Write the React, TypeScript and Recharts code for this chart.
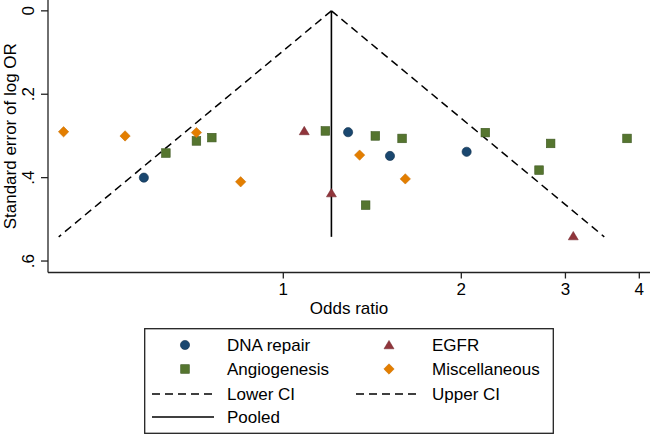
import React from 'react';
import { ScatterChart, Scatter, XAxis, YAxis, Legend } from 'recharts';

// funnel plot: odds ratio (log x) vs standard error of log OR (reversed y)
const dnaOR = [0.581, 1.287, 1.515, 2.042];
const dnaSE = [0.4, 0.291, 0.348, 0.338];

const egfrOR = [1.085, 1.206, 3.093];
const egfrSE = [0.288, 0.437, 0.54];

const angioOR = [0.633, 0.713, 0.757, 1.178, 1.431, 1.588, 1.378, 2.196, 2.707, 2.832, 3.813];
const angioSE = [0.341, 0.312, 0.304, 0.288, 0.3, 0.306, 0.466, 0.292, 0.382, 0.318, 0.306];

const miscOR = [0.425, 0.54, 0.713, 0.847, 1.346, 1.608];
const miscSE = [0.29, 0.3, 0.292, 0.41, 0.346, 0.403];

// funnel lines (start at apex, end at bottom)
const funnelSE = [0, 0.542];
const lowerOR = [1.206, 0.417];
const upperOR = [1.206, 3.49];
const pooledOR = [1.206, 1.206];

const xTicks = [1, 2, 3, 4];
const yTicks = [0, 0.2, 0.4, 0.6];
const yTickLabels = ['0', '.2', '.4', '.6'];

const NAVY = '#1a476f';
const MAROON = '#90353b';
const GREEN = '#55752f';
const ORANGE = '#e37e00';
const FONT = '"Liberation Sans", Arial, Helvetica, sans-serif';

const zip = (xs: number[], ys: number[]) => xs.map((x, i) => ({ x, y: ys[i] }));

const CircleMark = ({ cx, cy }: any) => (
  <circle cx={cx} cy={cy} r={4.6} fill={NAVY} stroke="#10304d" strokeWidth={0.6} />
);
const SquareMark = ({ cx, cy }: any) => (
  <rect x={cx - 4.3} y={cy - 4.3} width={8.6} height={8.6} fill={GREEN} stroke="#3d5820" strokeWidth={0.6} />
);
const TriangleMark = ({ cx, cy }: any) => (
  <path d={`M${cx},${cy - 4.6} L${cx + 5},${cy + 3.8} L${cx - 5},${cy + 3.8} Z`} fill={MAROON} stroke="#6e2328" strokeWidth={0.5} />
);
const DiamondMark = ({ cx, cy }: any) => (
  <path d={`M${cx},${cy - 5.2} L${cx + 5.2},${cy} L${cx},${cy + 5.2} L${cx - 5.2},${cy} Z`} fill={ORANGE} stroke="#c76d00" strokeWidth={0.5} />
);
const NoMark = () => <g />;

const YTick = ({ x, y, payload }: any) => {
  const idx = yTicks.indexOf(payload.value);
  return (
    <text
      x={x}
      y={y}
      transform={`rotate(-90 ${x} ${y})`}
      textAnchor="middle"
      fontSize={17}
      fill="#000"
      fontFamily={FONT}
    >
      {idx >= 0 ? yTickLabels[idx] : payload.value}
    </text>
  );
};

const LegendBox = () => {
  const rows = [17, 41, 66, 89];
  return (
    <svg width={410} height={106} style={{ display: 'block' }}>
      <rect x={0.7} y={0.7} width={408.6} height={104.6} fill="#fff" stroke="#222" strokeWidth={1.3} />
      <g fontFamily={FONT} fontSize={17} fill="#000">
        <CircleMark cx={41} cy={rows[0]} />
        <text x={83} y={rows[0] + 6}>DNA repair</text>
        <TriangleMark cx={245} cy={rows[0]} />
        <text x={288} y={rows[0] + 6}>EGFR</text>
        <SquareMark cx={41} cy={rows[1]} />
        <text x={83} y={rows[1] + 6}>Angiogenesis</text>
        <DiamondMark cx={245} cy={rows[1]} />
        <text x={288} y={rows[1] + 6}>Miscellaneous</text>
        <line x1={8} x2={70} y1={rows[2]} y2={rows[2]} stroke="#000" strokeWidth={1.5} strokeDasharray="8 5" />
        <text x={83} y={rows[2] + 6}>Lower CI</text>
        <line x1={212} x2={275} y1={rows[2]} y2={rows[2]} stroke="#000" strokeWidth={1.5} strokeDasharray="8 5" />
        <text x={288} y={rows[2] + 6}>Upper CI</text>
        <line x1={8} x2={70} y1={rows[3]} y2={rows[3]} stroke="#000" strokeWidth={1.5} />
        <text x={83} y={rows[3] + 6}>Pooled</text>
      </g>
    </svg>
  );
};

export default function App() {
  return (
    <div style={{ position: 'absolute', left: 0, top: 0, width: 650, height: 435, background: '#fff' }}>
      <ScatterChart
        width={650}
        height={435}
        margin={{ top: 0, right: 0, left: 0, bottom: 0 }}
        style={{ fontFamily: FONT }}
      >
        <XAxis
          type="number"
          dataKey="x"
          scale="log"
          domain={[0.4, 4.17]}
          allowDataOverflow
          ticks={xTicks}
          height={162.5}
          tickSize={6}
          tickMargin={4}
          tick={{ fill: '#000', fontSize: 17, fontFamily: FONT }}
          axisLine={{ stroke: '#222', strokeWidth: 1.3 }}
          tickLine={{ stroke: '#222', strokeWidth: 1.3 }}
          label={{
            content: ({ viewBox }: any) => (
              <text
                x={viewBox.x + viewBox.width / 2}
                y={viewBox.y + 41}
                textAnchor="middle"
                fontSize={17}
                fill="#000"
                fontFamily={FONT}
              >
                Odds ratio
              </text>
            ),
          }}
        />
        <YAxis
          type="number"
          dataKey="y"
          reversed
          domain={[-0.026, 0.6275]}
          allowDataOverflow
          ticks={yTicks}
          width={48}
          tickSize={7}
          tickMargin={7}
          tick={<YTick />}
          axisLine={{ stroke: '#222', strokeWidth: 1.3 }}
          tickLine={{ stroke: '#222', strokeWidth: 1.3 }}
          label={{
            content: ({ viewBox }: any) => {
              const lx = 16;
              const ly = viewBox.y + viewBox.height / 2;
              return (
                <text
                  x={lx}
                  y={ly}
                  transform={`rotate(-90 ${lx} ${ly})`}
                  textAnchor="middle"
                  fontSize={17}
                  fill="#000"
                  fontFamily={FONT}
                >
                  Standard error of log OR
                </text>
              );
            },
          }}
        />
        <Scatter
          name="Lower CI"
          data={zip(lowerOR, funnelSE)}
          shape={<NoMark />}
          line={{ stroke: '#000', strokeWidth: 1.5, strokeDasharray: '8 5' }}
          isAnimationActive={false}
        />
        <Scatter
          name="Upper CI"
          data={zip(upperOR, funnelSE)}
          shape={<NoMark />}
          line={{ stroke: '#000', strokeWidth: 1.5, strokeDasharray: '8 5' }}
          isAnimationActive={false}
        />
        <Scatter
          name="Pooled"
          data={zip(pooledOR, funnelSE)}
          shape={<NoMark />}
          line={{ stroke: '#000', strokeWidth: 1.6 }}
          isAnimationActive={false}
        />
        <Scatter name="DNA repair" data={zip(dnaOR, dnaSE)} shape={<CircleMark />} isAnimationActive={false} />
        <Scatter name="EGFR" data={zip(egfrOR, egfrSE)} shape={<TriangleMark />} isAnimationActive={false} />
        <Scatter name="Angiogenesis" data={zip(angioOR, angioSE)} shape={<SquareMark />} isAnimationActive={false} />
        <Scatter name="Miscellaneous" data={zip(miscOR, miscSE)} shape={<DiamondMark />} isAnimationActive={false} />
        <Legend
          layout="horizontal"
          verticalAlign="middle"
          align="center"
          content={() => <LegendBox />}
          wrapperStyle={{ left: 144, top: 328, width: 410, height: 106 }}
        />
      </ScatterChart>
    </div>
  );
}
